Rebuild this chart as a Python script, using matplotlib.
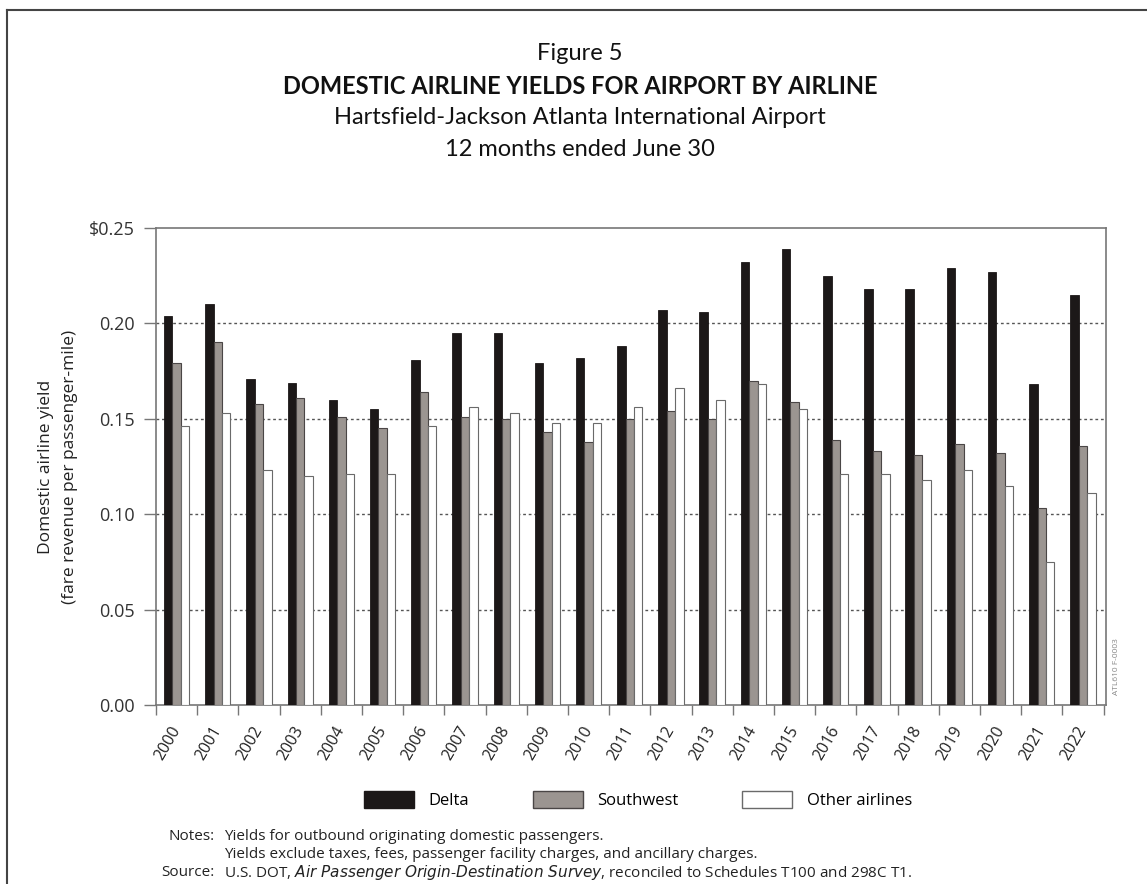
import matplotlib
matplotlib.use("Agg")
import matplotlib.pyplot as plt
import numpy as np
from matplotlib.lines import Line2D
from matplotlib.patches import Patch

years = [str(y) for y in range(2000, 2023)]
delta = [0.204, 0.210, 0.171, 0.169, 0.160, 0.155, 0.181, 0.195, 0.195, 0.179, 0.182, 0.188,
         0.207, 0.206, 0.232, 0.239, 0.225, 0.218, 0.218, 0.229, 0.227, 0.168, 0.215]
southwest = [0.179, 0.190, 0.158, 0.161, 0.151, 0.145, 0.164, 0.151, 0.150, 0.143, 0.138, 0.150,
             0.154, 0.150, 0.170, 0.159, 0.139, 0.133, 0.131, 0.137, 0.132, 0.103, 0.136]
other = [0.146, 0.153, 0.123, 0.120, 0.121, 0.121, 0.146, 0.156, 0.153, 0.148, 0.148, 0.156,
         0.166, 0.160, 0.168, 0.155, 0.121, 0.121, 0.118, 0.123, 0.115, 0.075, 0.111]
series_names = ["Delta", "Southwest", "Other airlines"]
ytick_vals = [0.0, 0.05, 0.10, 0.15, 0.20, 0.25]
ytick_labels = ["0.00", "0.05", "0.10", "0.15", "0.20", "$0.25"]

W, H = 1147, 884
fig = plt.figure(figsize=(W / 100, H / 100), dpi=100)
fig.patch.set_facecolor("white")

tfont = "Lato"
cfont = "Open Sans"

# outer frame (left and top only, as in the scan)
fig.add_artist(Line2D([7 / W, 7 / W], [0, 1 - 10 / H], transform=fig.transFigure, color="#444", lw=1.5))
fig.add_artist(Line2D([7 / W, 1], [1 - 10 / H, 1 - 10 / H], transform=fig.transFigure, color="#444", lw=1.5))

# titles
cx = 580 / W
tsize = 17
fig.text(cx, 1 - 54 / H, "Figure 5", ha="center", va="center", fontsize=tsize, family=tfont, color="#111")
fig.text(cx, 1 - 86 / H, "DOMESTIC AIRLINE YIELDS FOR AIRPORT BY AIRLINE", ha="center", va="center",
         fontsize=tsize, family=tfont, fontweight="bold", color="#111")
fig.text(cx, 1 - 118 / H, "Hartsfield-Jackson Atlanta International Airport", ha="center", va="center",
         fontsize=tsize, family=tfont, color="#111")
fig.text(cx, 1 - 149 / H, "12 months ended June 30", ha="center", va="center",
         fontsize=tsize, family=tfont, color="#111")

ax = fig.add_axes([156 / W, 1 - 705 / H, 950 / W, 477 / H])
x = np.arange(len(years))
w = 0.205
ax.bar(x - w, delta, w, color="#1c1818", edgecolor="#1c1818", lw=0.6, zorder=3)
ax.bar(x, southwest, w, color="#9b9591", edgecolor="#4a4646", lw=0.8, zorder=3)
ax.bar(x + w, other, w, color="white", edgecolor="#6a6a6a", lw=0.8, zorder=3)

ax.set_xlim(-0.485, 22.56)
ax.set_ylim(0, 0.25)
for v in ytick_vals[1:-1]:
    ax.axhline(v, color="#555", lw=1.0, ls=(0, (2, 2)), zorder=1)

ax.set_yticks(ytick_vals)
ax.set_yticklabels(ytick_labels, family=cfont, fontsize=13, color="#333")
ax.tick_params(axis="y", length=9, width=1, color="#777", pad=6)

ax.set_xticks(x)
ax.set_xticklabels(years, rotation=60, ha="right", va="center", rotation_mode="anchor",
                   family=cfont, fontsize=11.5, color="#222")
ax.tick_params(axis="x", which="major", length=0, pad=16)
ax.set_xticks(np.arange(-0.5, 23, 1.0), minor=True)
ax.tick_params(axis="x", which="minor", length=7, width=1, color="#777")

for s in ax.spines.values():
    s.set_color("#777")
    s.set_linewidth(1.2)

ax.set_ylabel("Domestic airline yield\n(fare revenue per passenger-mile)", family=cfont,
              fontsize=12.5, color="#222", labelpad=8, linespacing=1.7)

handles = [Patch(facecolor="#1c1818", edgecolor="#1c1818"),
           Patch(facecolor="#9b9591", edgecolor="#4a4646"),
           Patch(facecolor="white", edgecolor="#6a6a6a")]
fig.legend(handles, series_names, loc="center", bbox_to_anchor=(638 / W, 1 - 800 / H), ncol=3,
           frameon=False, prop={"family": cfont, "size": 12}, handlelength=3.0, handleheight=1.15,
           handletextpad=0.9, columnspacing=3.8)

nf = {"family": cfont, "fontsize": 11, "color": "#222"}
fig.text(215 / W, 1 - 836 / H, "Notes:", ha="right", va="center", **nf)
fig.text(224 / W, 1 - 836 / H, "Yields for outbound originating domestic passengers.", ha="left", va="center", **nf)
fig.text(224 / W, 1 - 854 / H, "Yields exclude taxes, fees, passenger facility charges, and ancillary charges.",
         ha="left", va="center", **nf)
fig.text(215 / W, 1 - 872 / H, "Source:", ha="right", va="center", **nf)
fig.text(224 / W, 1 - 872 / H,
         "U.S. DOT, $\\it{Air\\ Passenger\\ Origin}$-$\\it{Destination\\ Survey}$, reconciled to Schedules T100 and 298C T1.",
         ha="left", va="center", **nf)

fig.text(1117 / W, 1 - 667 / H, "ATL610 F-0003", rotation=90, ha="center", va="center",
         fontsize=6, family=cfont, color="#888")

fig.savefig("out.png", dpi=100)
